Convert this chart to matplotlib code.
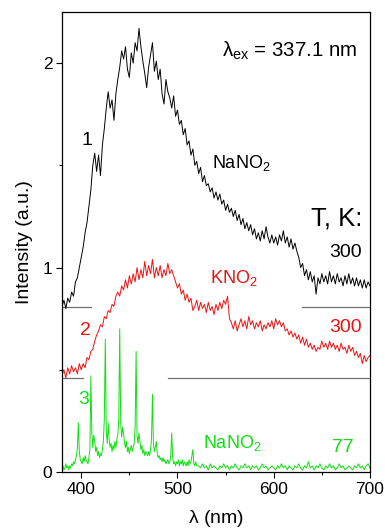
import numpy as np
import matplotlib
matplotlib.use('Agg')
import matplotlib.pyplot as plt
from matplotlib.ticker import MultipleLocator

plt.rcParams['font.family'] = ['Liberation Sans', 'DejaVu Sans']
plt.rcParams['mathtext.fontset'] = 'custom'
plt.rcParams['mathtext.rm'] = 'Liberation Sans'
plt.rcParams['mathtext.it'] = 'Liberation Sans'

# curve 1: NaNO2, 300 K (2 nm step, 380..700)
nm_2 = np.arange(380, 701, 2)
black = [
    0.81, 0.84, 0.80, 0.85, 0.83, 0.88, 0.86, 0.93, 0.95, 1.00,
    1.05, 1.10, 1.17, 1.22, 1.30, 1.38, 1.50, 1.56, 1.47, 1.55,
    1.45, 1.60, 1.68, 1.78, 1.86, 1.78, 1.82, 1.72, 1.85, 1.92,
    1.98, 2.06, 2.02, 2.08, 1.97, 1.93, 2.05, 2.00, 2.10, 2.06,
    2.17, 2.08, 2.01, 1.95, 1.88, 1.98, 2.04, 2.10, 1.96, 2.01,
    1.92, 1.97, 1.85, 1.80, 1.92, 1.86, 1.83, 1.78, 1.84, 1.74,
    1.77, 1.70, 1.72, 1.65, 1.68, 1.60, 1.62, 1.55, 1.58, 1.50,
    1.52, 1.46, 1.49, 1.42, 1.45, 1.40, 1.41, 1.37, 1.39, 1.34,
    1.37, 1.33, 1.36, 1.31, 1.33, 1.28, 1.31, 1.27, 1.29, 1.25,
    1.28, 1.23, 1.26, 1.21, 1.24, 1.19, 1.22, 1.18, 1.21, 1.16,
    1.19, 1.14, 1.17, 1.13, 1.18, 1.14, 1.20, 1.15, 1.12, 1.16,
    1.12, 1.15, 1.11, 1.16, 1.13, 1.18, 1.12, 1.15, 1.10, 1.14,
    1.09, 1.12, 1.08, 1.05, 1.00, 1.02, 0.96, 0.99, 0.94, 0.98,
    0.93, 0.96, 0.87, 0.95, 0.92, 0.97, 0.93, 0.96, 0.92, 0.98,
    0.93, 0.96, 0.92, 0.97, 0.93, 0.95, 0.91, 0.96, 0.92, 0.97,
    0.92, 0.95, 0.91, 0.95, 0.91, 0.94, 0.90, 0.94, 0.90, 0.93,
    0.91]

# curve 2: KNO2, 300 K
red = [
    0.47, 0.50, 0.46, 0.51, 0.48, 0.52, 0.49, 0.51, 0.48, 0.53,
    0.50, 0.53, 0.51, 0.56, 0.55, 0.59, 0.60, 0.64, 0.67, 0.69,
    0.72, 0.71, 0.76, 0.75, 0.79, 0.78, 0.82, 0.81, 0.86, 0.88,
    0.86, 0.91, 0.89, 0.94, 0.90, 0.96, 0.92, 0.97, 0.93, 1.00,
    0.94, 0.99, 0.95, 1.03, 0.96, 1.01, 0.97, 1.04, 0.95, 1.00,
    0.96, 1.01, 0.95, 0.99, 0.96, 1.02, 0.97, 0.99, 0.96, 0.93,
    0.90, 0.92, 0.87, 0.89, 0.84, 0.87, 0.83, 0.85, 0.79, 0.81,
    0.84, 0.79, 0.83, 0.80, 0.82, 0.78, 0.83, 0.79, 0.81, 0.77,
    0.82, 0.79, 0.83, 0.80, 0.84, 0.82, 0.86, 0.75, 0.73, 0.70,
    0.74, 0.69, 0.72, 0.75, 0.71, 0.74, 0.70, 0.76, 0.72, 0.74,
    0.70, 0.73, 0.71, 0.74, 0.69, 0.72, 0.70, 0.73, 0.71, 0.74,
    0.70, 0.75, 0.72, 0.74, 0.71, 0.73, 0.69, 0.70, 0.67, 0.69,
    0.66, 0.68, 0.65, 0.67, 0.63, 0.66, 0.62, 0.65, 0.61, 0.63,
    0.60, 0.62, 0.59, 0.61, 0.60, 0.64, 0.61, 0.63, 0.60, 0.64,
    0.61, 0.63, 0.60, 0.62, 0.59, 0.63, 0.60, 0.61, 0.58, 0.62,
    0.59, 0.61, 0.57, 0.59, 0.56, 0.58, 0.53, 0.57, 0.54, 0.56,
    0.57]

# curve 3: NaNO2, 77 K (1 nm step to 520, then 2 nm)
nm_green = np.concatenate([np.arange(380, 521), np.arange(522, 701, 2)])
green = [
    0.02, 0.03, 0.01, 0.02, 0.04, 0.02, 0.03, 0.01, 0.03, 0.02,
    0.04, 0.03, 0.05, 0.04, 0.06, 0.08, 0.12, 0.24, 0.10, 0.06,
    0.05, 0.04, 0.07, 0.05, 0.08, 0.06, 0.05, 0.04, 0.07, 0.11,
    0.47, 0.19, 0.12, 0.18, 0.15, 0.10, 0.12, 0.08, 0.10, 0.07,
    0.09, 0.08, 0.11, 0.15, 0.26, 0.65, 0.20, 0.14, 0.24, 0.16,
    0.12, 0.14, 0.10, 0.13, 0.11, 0.15, 0.12, 0.16, 0.18, 0.26,
    0.70, 0.24, 0.17, 0.22, 0.19, 0.14, 0.12, 0.15, 0.10, 0.12,
    0.09, 0.11, 0.13, 0.10, 0.12, 0.14, 0.22, 0.59, 0.18, 0.14,
    0.19, 0.15, 0.11, 0.13, 0.09, 0.11, 0.08, 0.10, 0.09, 0.08,
    0.10, 0.08, 0.11, 0.16, 0.38, 0.14, 0.10, 0.12, 0.15, 0.09,
    0.07, 0.08, 0.06, 0.07, 0.05, 0.07, 0.05, 0.06, 0.04, 0.05,
    0.06, 0.04, 0.05, 0.08, 0.19, 0.07, 0.04, 0.05, 0.03, 0.05,
    0.04, 0.06, 0.03, 0.05, 0.04, 0.06, 0.03, 0.05, 0.04, 0.03,
    0.05, 0.03, 0.06, 0.04, 0.05, 0.08, 0.11, 0.04, 0.03, 0.05,
    0.03,
    0.03, 0.02, 0.04, 0.02, 0.03, 0.01, 0.04, 0.02, 0.03, 0.02,
    0.01, 0.03, 0.02, 0.04, 0.02, 0.03, 0.01, 0.03, 0.02, 0.04,
    0.02, 0.01, 0.03, 0.02, 0.04, 0.02, 0.03, 0.01, 0.03, 0.02,
    0.03, 0.01, 0.02, 0.04, 0.02, 0.03, 0.01, 0.02, 0.03, 0.02,
    0.01, 0.03, 0.02, 0.04, 0.02, 0.03, 0.01, 0.03, 0.02, 0.01,
    0.03, 0.02, 0.04, 0.02, 0.01, 0.03, 0.02, 0.05, 0.02, 0.03,
    0.01, 0.03, 0.02, 0.04, 0.02, 0.01, 0.03, 0.02, 0.04, 0.02,
    0.03, 0.01, 0.02, 0.04, 0.02, 0.03, 0.01, 0.02, 0.03, 0.02,
    0.01, 0.03, 0.02, 0.04, 0.02, 0.03, 0.01, 0.03, 0.04, 0.02]

# baseline markers (level, segments in nm)
base1_level = 0.805
base1_segs = [(380, 410), (629, 700)]
base2_level = 0.458
base2_segs = [(380, 402), (490, 700)]

RED = '#ee1111'
GREEN = '#11e011'

fig = plt.figure(figsize=(3.85, 5.32), dpi=100)
ax = fig.add_axes([0.161, 0.1128, 0.800, 0.8646])

for lo, hi in base1_segs:
    ax.plot([lo, hi], [base1_level, base1_level], color='#707070', lw=0.9)
for lo, hi in base2_segs:
    ax.plot([lo, hi], [base2_level, base2_level], color='#707070', lw=0.9)

ax.plot(nm_2, black, color='black', lw=0.7)
ax.plot(nm_2, red, color=RED, lw=0.7)
ax.plot(nm_green, green, color=GREEN, lw=0.7)

ax.set_xlim(380, 700)
ax.set_ylim(0, 2.25)
ax.xaxis.set_major_locator(MultipleLocator(100))
ax.xaxis.set_minor_locator(MultipleLocator(50))
ax.yaxis.set_major_locator(MultipleLocator(1))
ax.yaxis.set_minor_locator(MultipleLocator(0.5))
ax.tick_params(which='major', direction='out', length=4, width=0.8, labelsize=12.5, pad=3)
ax.tick_params(which='minor', direction='out', length=2.5, width=0.8)
for s in ax.spines.values():
    s.set_linewidth(0.9)

ax.set_xlabel(r'$\lambda$ (nm)', fontsize=14, labelpad=8)
ax.set_ylabel('Intensity (a.u.)', fontsize=14)
ax.yaxis.set_label_coords(-0.095, 0.5)

fs = 14
ax.text(546, 2.06, r'$\lambda_{ex}$ = 337.1 nm', fontsize=14.8, va='center', ha='left')
ax.text(406, 1.62, '1', fontsize=fs, va='center', ha='center')
ax.text(536, 1.51, r'NaNO$_2$', fontsize=13, va='center', ha='left')
ax.text(692, 1.24, 'T, K:', fontsize=18.5, va='center', ha='right')
ax.text(692, 1.075, '300', fontsize=fs, va='center', ha='right')
ax.text(534, 0.947, r'KNO$_2$', fontsize=13, va='center', ha='left', color=RED)
ax.text(692, 0.707, '300', fontsize=fs, va='center', ha='right', color=RED)
ax.text(404, 0.69, '2', fontsize=fs, va='center', ha='center', color=RED)
ax.text(402, 0.355, '3', fontsize=fs, va='center', ha='center', color=GREEN)
ax.text(526, 0.14, r'NaNO$_2$', fontsize=13, va='center', ha='left', color=GREEN)
ax.text(683, 0.12, '77', fontsize=fs, va='center', ha='right', color=GREEN)

fig.savefig('out.png', dpi=100)
